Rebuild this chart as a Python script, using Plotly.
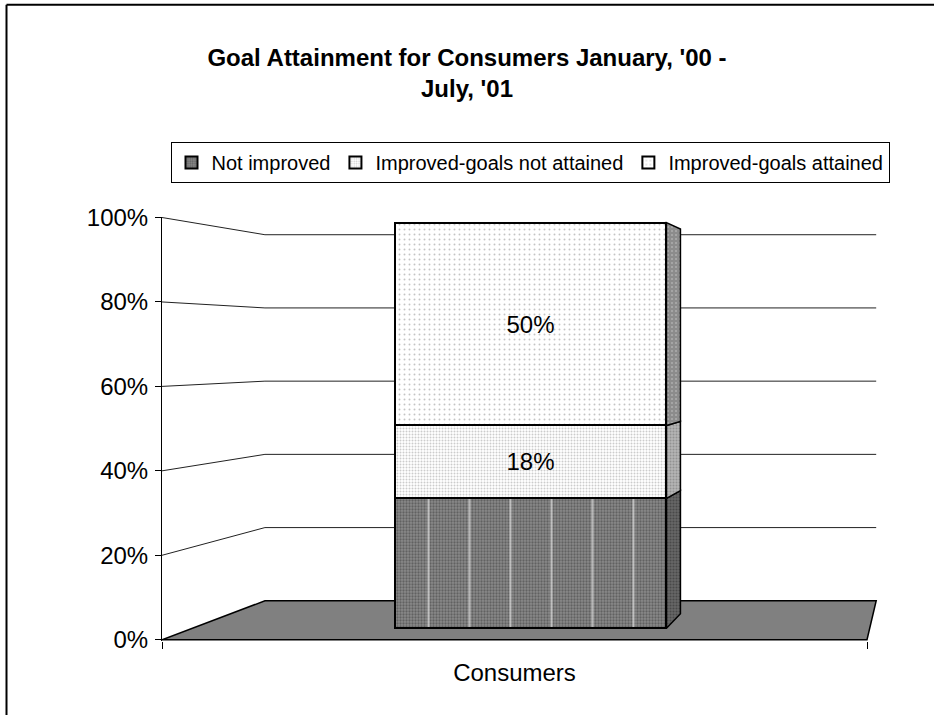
import plotly.graph_objects as go

# ---------------- data ----------------
categories = ["Consumers"]
series_names = ["Not improved", "Improved-goals not attained", "Improved-goals attained"]
series_values = [32, 18, 50]          # percent of consumers
series_labels = ["", "18%", "50%"]    # data labels shown on the bar
y_tick_values = [0, 20, 40, 60, 80, 100]
y_tick_labels = ["0%", "20%", "40%", "60%", "80%", "100%"]
chart_title = "Goal Attainment for Consumers January, '00 -<br>July, '01"

# ---------------- pseudo-3D projection (style constants) ----------------
VP_X = 1.098      # vanishing point, x in category-axis units
VP_Y = 69.35      # vanishing point, y in value-axis units
DEPTH = 0.1534    # perspective shrink at back wall
Z_FRONT, Z_BACK = 0.265, 0.636   # bar depth extent (0 = front, 1 = back wall)
BAR_WIDTH = 0.4                  # gap width 150 %
CAT_CENTER = 0.5


def proj(x, v, z):
    k = 1.0 / (1.0 + DEPTH * z)
    return VP_X + k * (x - VP_X), VP_Y + k * (v - VP_Y)


FONT = "Liberation Sans, Arial, sans-serif"

front_styles = [
    dict(bg="#8a8a8a", fg="#383838", shape=".", size=3, solidity=0.45),
    dict(bg="#ffffff", fg="#9a9a9a", shape=".", size=3, solidity=0.35),
    dict(bg="#ffffff", fg="#8a8a8a", shape=".", size=5, solidity=0.12),
]
side_styles = [
    dict(bg="#666666", fg="#2c2c2c", shape=".", size=3, solidity=0.4),
    dict(bg="#b4b4b4", fg="#707070", shape=".", size=3, solidity=0.35),
    dict(bg="#8c8c8c", fg="#d0d0d0", shape=".", size=4, solidity=0.2),
]

fig = go.Figure()
shapes = []

# gridlines on side wall + back wall
for v in y_tick_values[1:]:
    p0 = proj(0, v, 0)
    p1 = proj(0, v, 1)
    p2 = proj(1, v, 1)
    shapes.append(dict(type="path", xref="x", yref="y", layer="below",
                       path=f"M{p0[0]},{p0[1]} L{p1[0]},{p1[1]} L{p2[0]},{p2[1]}",
                       line=dict(color="#222222", width=1)))
# floor
f = [proj(0, 0, 0), proj(0, 0, 1), proj(1, 0, 1), proj(1, 0, 0)]
shapes.append(dict(type="path", xref="x", yref="y", layer="below",
                   path="M" + " L".join(f"{a},{b}" for a, b in f) + " Z",
                   fillcolor="#808080", line=dict(color="black", width=1.5)))

# bars
cum = 0
xl = CAT_CENTER - BAR_WIDTH / 2
xr = CAT_CENTER + BAR_WIDTH / 2
for i, (name, val) in enumerate(zip(series_names, series_values)):
    lo, hi = cum, cum + val
    cum = hi
    fx0, fy0 = proj(xl, lo, Z_FRONT)
    fx1, fy1 = proj(xr, hi, Z_FRONT)
    st = front_styles[i]
    fig.add_trace(go.Bar(
        x=[(fx0 + fx1) / 2], y=[fy1 - fy0], base=[fy0], width=[fx1 - fx0],
        name=name, text=[series_labels[i]], textposition="inside",
        insidetextanchor="middle", constraintext="none",
        textfont=dict(size=24, color="black", family=FONT),
        marker=dict(color=st["bg"], line=dict(color="black", width=2),
                    pattern=dict(shape=st["shape"], fgcolor=st["fg"], bgcolor=st["bg"],
                                 size=st["size"], solidity=st["solidity"])),
        hoverinfo="skip"))
    if i == 0:
        # white vertical streaks of the dark pattern
        fig.add_trace(go.Bar(
            x=[(fx0 + fx1) / 2], y=[fy1 - fy0], base=[fy0], width=[fx1 - fx0],
            showlegend=False, hoverinfo="skip",
            marker=dict(color="rgba(0,0,0,0)", line=dict(color="black", width=2),
                        pattern=dict(shape="|", fgcolor="white", bgcolor="rgba(0,0,0,0)",
                                     size=41, solidity=0.05))))
    # right side face
    s = [proj(xr, lo, Z_FRONT), proj(xr, hi, Z_FRONT), proj(xr, hi, Z_BACK), proj(xr, lo, Z_BACK)]
    s.append(s[0])
    ss = side_styles[i]
    fig.add_trace(go.Scatter(
        x=[p[0] for p in s], y=[p[1] for p in s], mode="lines", fill="toself",
        fillcolor=ss["bg"], line=dict(color="black", width=1.5),
        fillpattern=dict(shape=ss["shape"], fgcolor=ss["fg"], bgcolor=ss["bg"],
                         size=ss["size"], solidity=ss["solidity"]),
        showlegend=False, hoverinfo="skip"))

# page geometry
L, R, T = 162, 56, 217
PLOT_BOTTOM = 641.3
B = 715 - PLOT_BOTTOM
PH = PLOT_BOTTOM - T
PW = 934 - L - R

# outer chart border (only its top and left edges fall inside the picture)
BX = (6.5 - L) / PW
BY = (PLOT_BOTTOM - 4.5) / PH
shapes.append(dict(type="line", xref="paper", yref="paper", layer="above",
                   x0=BX, x1=BX, y0=-0.5, y1=BY, line=dict(color="black", width=2)))
shapes.append(dict(type="line", xref="paper", yref="paper", layer="above",
                   x0=BX, x1=1.2, y0=BY, y1=BY, line=dict(color="black", width=2)))

fig.update_layout(
    width=934, height=715,
    margin=dict(l=L, r=R, t=T, b=B),
    paper_bgcolor="white", plot_bgcolor="white",
    barmode="overlay", bargap=0,
    font=dict(family=FONT, color="black"),
    title=dict(text=chart_title, x=0.5, xref="container", xanchor="center",
               y=1 - 66 / 715, yref="container", yanchor="middle",
               font=dict(size=24, family=FONT, color="black", weight="bold")),
    legend=dict(orientation="h", x=(530 - L) / PW, xanchor="center",
                y=(PLOT_BOTTOM - 142) / PH, yanchor="top",
                bordercolor="black", borderwidth=1, bgcolor="white",
                font=dict(size=20, family=FONT, color="black"),
                traceorder="normal"),
    xaxis=dict(range=[0, (934 - R - L) / 705], tickvals=[CAT_CENTER], ticktext=categories,
               ticks="", showline=False, showgrid=False, zeroline=False,
               tickfont=dict(size=24, family=FONT, color="black"),
               ticklabelstandoff=15,
               minor=dict(tickmode="array", tickvals=[0, 1], ticks="outside", ticklen=7,
                          tickcolor="black", tickwidth=1, showgrid=False),
               fixedrange=True),
    yaxis=dict(range=[-0.3, 100.12], tickvals=y_tick_values, ticktext=y_tick_labels,
               ticks="outside", ticklen=6, tickcolor="black", showline=True,
               linecolor="black", linewidth=1, showgrid=False, zeroline=False,
               ticklabelstandoff=2,
               tickfont=dict(size=24, family=FONT, color="black"), fixedrange=True),
    shapes=shapes,
    showlegend=True,
)

fig.write_html("out.html")
